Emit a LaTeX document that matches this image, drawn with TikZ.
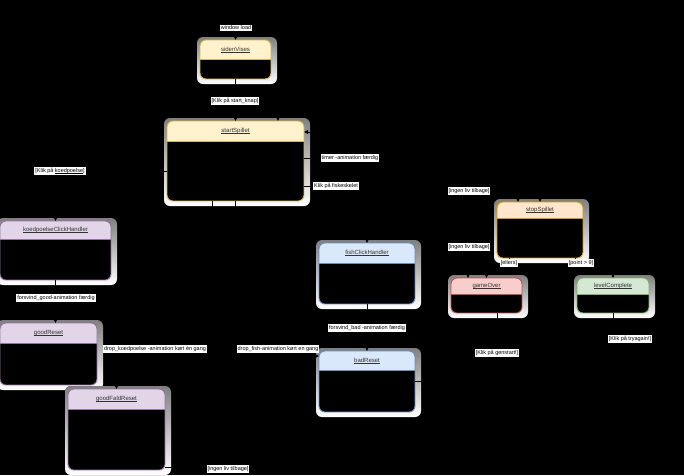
\documentclass[tikz,border=0pt]{standalone}
\usepackage{fontspec}
\setmainfont{Liberation Sans}
\usetikzlibrary{arrows.meta,fit}

\definecolor{ylwF}{HTML}{FFF2CC}\definecolor{ylwS}{HTML}{D6B656}
\definecolor{orgF}{HTML}{FFE6CC}\definecolor{orgS}{HTML}{D79B00}
\definecolor{purF}{HTML}{E1D5E7}\definecolor{purS}{HTML}{9673A6}
\definecolor{bluF}{HTML}{DAE8FC}\definecolor{bluS}{HTML}{6C8EBF}
\definecolor{redF}{HTML}{F8CECC}\definecolor{redS}{HTML}{B85450}
\definecolor{grnF}{HTML}{D5E8D4}\definecolor{grnS}{HTML}{82B366}
\definecolor{shade}{HTML}{909090}

% underline sitting close to the baseline
\newcommand\ulw[1]{\setbox0\hbox{#1}\rlap{\rule[-1.1pt]{\wd0}{0.35pt}}\box0}

\tikzset{
  lbl/.style={fill=white, inner sep=1pt, text=black, font=\fontsize{5.5}{6.5}\selectfont},
  ttl/.style={inner sep=0pt, text=black!80, font=\fontsize{6}{7}\selectfont},
  conn/.style={draw=black, line width=0.7pt, -{Triangle[length=4pt,width=4pt]}},
}

% state box: name, x1, y1, x2, y2, header bottom, fill, stroke, title
\newcommand\stbox[9]{%
  \fill[shade, rounded corners=6] (#2-3,#3-3) rectangle (#4+6,#5+5);
  \coordinate (#1-nw) at (#2,#3);
  \coordinate (#1-se) at (#4,#5);
  \node[fit=(#1-nw)(#1-se), inner sep=0pt] (#1) {};
  \begin{scope}
    \clip[rounded corners=6] (#2,#3) rectangle (#4,#5);
    \fill[#7] (#2,#3) rectangle (#4,#6);
    \fill[black] (#2,#6) rectangle (#4,#5);
  \end{scope}
  \draw[#8, line width=0.8pt] (#2,#6) -- (#4,#6);
  \draw[#8, line width=0.9pt, rounded corners=6] (#2,#3) rectangle (#4,#5);
  \node[ttl] (#1-t) at ({(#2+#4)/2},{(#3+#6)/2}) {\ulw{#9}};
}

\begin{document}
\begin{tikzpicture}[x=1pt,y=-1pt]
  \fill[black] (0,0) rectangle (684,475);
  \useasboundingbox (0,0) rectangle (684,475);

  % states
  \stbox{sv}{200}{40}{271}{79}{59}{ylwF}{ylwS}{sidenVises}
  \stbox{ss}{167}{121}{304}{201}{141}{ylwF}{ylwS}{startSpillet}
  \stbox{kch}{0}{221}{111}{280}{239}{purF}{purS}{koedpoelseClickHandler}
  \stbox{gr}{0}{323}{97}{385}{343}{purF}{purS}{goodReset}
  \stbox{gfr}{68}{389}{165}{470}{409}{purF}{purS}{goodFaldReset}
  \stbox{fch}{319}{243}{415}{304}{263}{bluF}{bluS}{fishClickHandler}
  \stbox{br}{319}{351}{415}{412}{370}{bluF}{bluS}{badReset}
  \stbox{stop}{497}{202}{583}{258}{218}{orgF}{orgS}{stopSpillet}
  \stbox{gO}{451}{278}{522}{313}{294}{redF}{redS}{gameOver}
  \stbox{lC}{577}{278}{649}{313}{294}{grnF}{grnS}{levelComplete}

  % bend points
  \coordinate (wlP) at (236,28);
  \coordinate (gsTop) at (278,110);
  \coordinate (trA) at (664,339);
  \coordinate (trB) at (664,132);

  % transitions
  \draw[conn] (wlP) -- (sv.north);
  \draw[conn] (sv.south) -- (ss.north);
  \draw[conn] ([yshift=-10pt]ss.west) -| (kch.north);
  \draw[conn] (kch.south) -- (kch.south |- gr.north);
  \draw[conn] ([xshift=-23.5pt]ss.south) -- ++(0,157) -| (gfr.north);
  \draw[conn] (ss.south) |- ([yshift=25.5pt]br.west);
  \draw[conn] ([yshift=3pt]ss.east) -| (stop.north);
  \draw[conn] ([yshift=-25pt]ss.east) -| (fch.north);
  \draw[conn] (fch.south) -- (br.north);
  \draw[conn] ([yshift=3pt]gfr.south east) -- ++(271,0) |- ([xshift=-22pt]stop.north |- 0,-191) -- ([xshift=-22pt]stop.north);
  \draw[conn] (br.east) -- ++(28,0) |- ([xshift=-18.5pt]gO.north |- 0,-247) -- ([xshift=-18.5pt]gO.north);
  \draw[conn] ([xshift=-31pt]stop.south) -- ++(0,12) -| (gO.north);
  \draw[conn] ([xshift=35pt]stop.south) -- ++(0,12) -| (lC.north);
  \draw[conn] ([xshift=10.5pt]gO.south) -- ++(0,112) -- ++(-69,0) |- (gsTop) -- ([xshift=42.5pt]ss.north);
  \draw[conn] (lC.south) |- (trA) -- (trB) -- ([yshift=29pt]ss.east);

  % transition labels
  \node[lbl] (lwl) at (236,28) {window load};
  \node[lbl] (lsk) at (235,101) {[Klik på start\_knap]};
  \node[lbl] (ltm) at (350,158) {timer -animation færdig};
  \node[lbl] (lfs) at (336,186) {Klik på fiskeskelet};
  \node[lbl] (lkp) at (60,171) {[Klik på \ulw{koedpoelse}]};
  \node[lbl] (lfg) at (56,298) {forsvind\_good-animation færdig};
  \node[lbl] (ldk) at (155,349) {drop\_koedpoelse -animation kørt én gang};
  \node[lbl] (ldf) at (278,349) {drop\_fish-animation kørt en gang};
  \node[lbl] (lfb) at (367,328) {forsvind\_bad -animation færdig};
  \node[lbl] (lil0) at (228,469) {[ingen liv tilbage]};
  \node[lbl] (lil1) at (469,191) {[ingen liv tilbage]};
  \node[lbl] (lil2) at (469,247) {[ingen liv tilbage]};
  \node[lbl] (lel) at (509,263) {[ellers]};
  \node[lbl] (lpt) at (581,263) {[point > 9]};
  \node[lbl] (lgs) at (497,353) {[Klik på genstart!]};
  \node[lbl] (ltr) at (630,339) {[Klik på tryagain!]};
\end{tikzpicture}
\end{document}
